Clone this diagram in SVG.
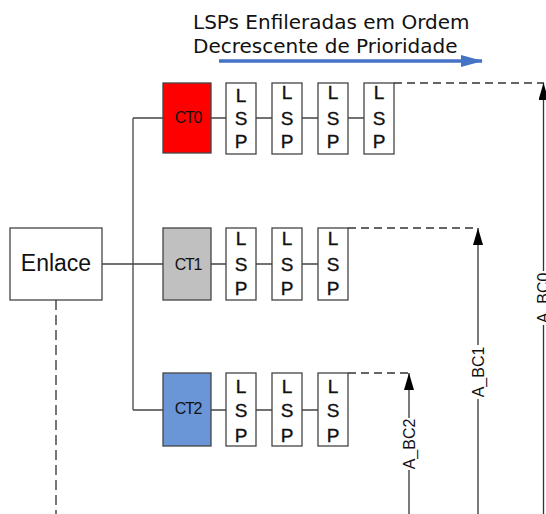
<svg xmlns="http://www.w3.org/2000/svg" width="546" height="514" viewBox="0 0 546 514">
  <defs>
    <!-- solid arrowhead pointing along the line direction -->
    <marker id="tri" markerWidth="17" markerHeight="10" refX="17" refY="5" orient="auto" markerUnits="userSpaceOnUse" viewBox="0 0 17 10">
      <path d="M0,0 L17,5 L0,10 Z" fill="#000"/>
    </marker>
    <marker id="blue-head" markerWidth="22" markerHeight="12" refX="21" refY="6" orient="auto" markerUnits="userSpaceOnUse">
      <path d="M0,0 L22,6 L0,12 Z" fill="#4472C4"/>
    </marker>
  </defs>
  <style>
    .box { stroke: #444; stroke-width: 1.3; }
    .lsp { fill: #fff; stroke: #444; stroke-width: 1.3; }
    .lsp-t { font-family: "Liberation Sans", Arial, sans-serif; font-size: 19px; fill: #111; stroke: #111; stroke-width: 0.35; text-anchor: middle; }
    .ct-t { font-family: "Liberation Sans", Arial, sans-serif; font-size: 16px; fill: #111; text-anchor: middle; letter-spacing: -1.2px; }
    .wire { stroke: #444; stroke-width: 1.3; fill: none; }
    .dash { stroke: #333; stroke-width: 1.3; fill: none; stroke-dasharray: 8 5; }
    .bc { stroke: #333; stroke-width: 1.3; fill: none; }
    .bc-t { font-family: "Liberation Sans", Arial, sans-serif; font-size: 16px; fill: #111; text-anchor: middle; }
    .title { font-family: "DejaVu Sans", Verdana, sans-serif; font-size: 20px; fill: #111; }
  </style>

  <!-- heading and priority direction arrow -->
  <text class="title" x="193" y="29">LSPs Enfileradas em Ordem</text>
  <text class="title" x="193" y="53">Decrescente de Prioridade</text>
  <line x1="219" y1="61" x2="482" y2="61" stroke="#4472C4" stroke-width="3.5" marker-end="url(#blue-head)"/>

  <!-- connectors -->
  <g id="connectors">
    <path class="wire" d="M102,264 H163 M133,118 V410 M133,118 H163 M133,410 H163"/>
    <path class="wire" d="M211,118 H226 M256,118 H272 M302,118 H318 M348,118 H364"/>
    <path class="wire" d="M211,264 H226 M256,264 H272 M302,264 H318"/>
    <path class="wire" d="M211,410 H226 M256,410 H272 M302,410 H318"/>
    <line x1="56" y1="300" x2="56" y2="514" stroke="#777" stroke-width="2" stroke-dasharray="10 5"/>
    <path class="dash" d="M394,83 H544"/>
    <path class="dash" d="M348,228 H478"/>
    <path class="dash" d="M348,373 H409"/>
    <!-- bandwidth constraint arrows -->
    <line class="bc" x1="409" y1="418" x2="409" y2="373" marker-end="url(#tri)"/>
    <line class="bc" x1="409" y1="514" x2="409" y2="470"/>
    <line class="bc" x1="478" y1="345" x2="478" y2="228" marker-end="url(#tri)"/>
    <line class="bc" x1="478" y1="514" x2="478" y2="399"/>
    <line class="bc" x1="543.5" y1="271" x2="543.5" y2="83" marker-end="url(#tri)"/>
    <line class="bc" x1="543.5" y1="514" x2="543.5" y2="325"/>
    <text class="bc-t" transform="translate(415,444) rotate(-90)">A_BC2</text>
    <text class="bc-t" transform="translate(484,372) rotate(-90)">A_BC1</text>
    <text class="bc-t" transform="translate(549,298) rotate(-90)">A_BC0</text>
  </g>

  <g id="enlace">
    <rect x="10" y="228" width="92" height="72" fill="#fff" stroke="#444" stroke-width="1.3"/>
    <text x="56" y="271" font-family="Liberation Sans, Arial, sans-serif" font-size="23" fill="#111" text-anchor="middle">Enlace</text>
  </g>

  <g id="ct0">
    <rect class="box" x="163" y="83" width="48" height="70" fill="#FF0000"/>
    <text class="ct-t" x="188" y="123">CT0</text>
  </g>
  <g id="ct1">
    <rect class="box" x="163" y="228" width="48" height="72" fill="#C0C0C0"/>
    <text class="ct-t" x="188" y="270">CT1</text>
  </g>
  <g id="ct2">
    <rect class="box" x="163" y="373" width="48" height="73" fill="#6A96D8"/>
    <text class="ct-t" x="188" y="414">CT2</text>
  </g>

  <!-- CT0 queue -->
  <g id="lsp0a"><rect class="lsp" x="226" y="83" width="30" height="71"/><text class="lsp-t" x="241" y="102">L</text><text class="lsp-t" x="241" y="125">S</text><text class="lsp-t" x="241" y="148">P</text></g>
  <g id="lsp0b"><rect class="lsp" x="272" y="83" width="30" height="71"/><text class="lsp-t" x="287" y="99">L</text><text class="lsp-t" x="287" y="125">S</text><text class="lsp-t" x="287" y="148">P</text></g>
  <g id="lsp0c"><rect class="lsp" x="318" y="83" width="30" height="71"/><text class="lsp-t" x="333" y="99">L</text><text class="lsp-t" x="333" y="125">S</text><text class="lsp-t" x="333" y="148">P</text></g>
  <g id="lsp0d"><rect class="lsp" x="364" y="83" width="30" height="71"/><text class="lsp-t" x="379" y="99">L</text><text class="lsp-t" x="379" y="125">S</text><text class="lsp-t" x="379" y="148">P</text></g>

  <!-- CT1 queue -->
  <g id="lsp1a"><rect class="lsp" x="226" y="228" width="30" height="72"/><text class="lsp-t" x="241" y="245">L</text><text class="lsp-t" x="241" y="271">S</text><text class="lsp-t" x="241" y="295">P</text></g>
  <g id="lsp1b"><rect class="lsp" x="272" y="228" width="30" height="72"/><text class="lsp-t" x="287" y="245">L</text><text class="lsp-t" x="287" y="271">S</text><text class="lsp-t" x="287" y="295">P</text></g>
  <g id="lsp1c"><rect class="lsp" x="318" y="228" width="30" height="72"/><text class="lsp-t" x="333" y="245">L</text><text class="lsp-t" x="333" y="271">S</text><text class="lsp-t" x="333" y="295">P</text></g>

  <!-- CT2 queue -->
  <g id="lsp2a"><rect class="lsp" x="226" y="373" width="30" height="73"/><text class="lsp-t" x="241" y="393">L</text><text class="lsp-t" x="241" y="417">S</text><text class="lsp-t" x="241" y="442">P</text></g>
  <g id="lsp2b"><rect class="lsp" x="272" y="373" width="30" height="73"/><text class="lsp-t" x="287" y="393">L</text><text class="lsp-t" x="287" y="417">S</text><text class="lsp-t" x="287" y="442">P</text></g>
  <g id="lsp2c"><rect class="lsp" x="318" y="373" width="30" height="73"/><text class="lsp-t" x="333" y="393">L</text><text class="lsp-t" x="333" y="417">S</text><text class="lsp-t" x="333" y="442">P</text></g>
</svg>
